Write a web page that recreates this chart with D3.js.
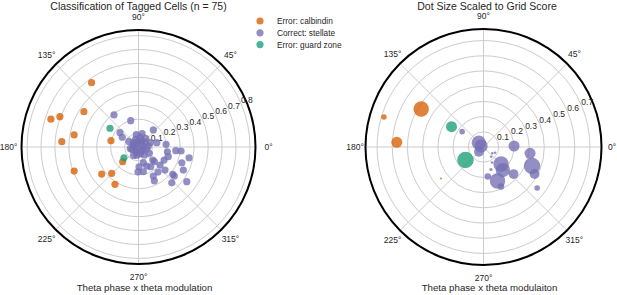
<!DOCTYPE html>
<html lang="en">
<head>
<meta charset="utf-8" />
<title>Classification of Tagged Cells – polar</title>
<script src="https://d3js.org/d3.v7.min.js"></script>
<style>
  body { margin: 0; background: #fff; font-family: "Liberation Sans", Arial, sans-serif; }
  svg { display: block; }
  .grid { fill: none; stroke: #cccccc; stroke-width: 1; }
  .spine { fill: none; stroke: #000; stroke-width: 2; }
  .lbl { fill: #262626; }
</style>
</head>
<body>
<div id="chart"></div>
<script>
/* ----------------------------- DATA ----------------------------- */
const classes = ['Error: calbindin', 'Correct: stellate', 'Error: guard zone'];
const classColors = ['#d95f02', '#7570b3', '#1b9e77'];

const angleTicks = [0, 45, 90, 135, 180, 225, 270, 315];
const leftRTicks = [0.1, 0.2, 0.3, 0.4, 0.5, 0.6, 0.7, 0.8];
const rightRTicks = [0.1, 0.2, 0.3, 0.4, 0.5, 0.6, 0.7];

// left panel: theta phase (deg) and theta modulation (r)
const calbTheta = [126.1, 147.1, 162.4, 158.9, 169.4, 176.0, 167.1, 222.9, 200.5, 216.3, 224.5, 237.8];
const calbR     = [0.572, 0.467, 0.660, 0.605, 0.470, 0.552, 0.203, 0.155, 0.493, 0.328, 0.270, 0.317];

const stelTheta = [127.4, 106.5, 142.3, 149.1, 49.0, 13.3, 5.6, 350.7, 354.3, 354.6, 348.0, 342.0,
  333.0, 317.5, 317.1, 340.0, 332.8, 321.4, 321.0, 324.3, 312.9, 319.0, 297.0, 295.1,
  293.3, 287.0, 271.5, 268.8, 281.0, 301.8, 320.1, 307.9,
  5, 20, 35, 50, 65, 80, 95, 110, 125, 140, 160, 180, 200, 220, 245, 260, 285, 305,
  325, 345, 15, 45, 75, 100, 150, 190, 240, 300, 330];
const stelR = [0.290, 0.197, 0.168, 0.136, 0.162, 0.135, 0.199, 0.210, 0.269, 0.307, 0.371, 0.225,
  0.206, 0.139, 0.155, 0.331, 0.362, 0.315, 0.331, 0.427, 0.351, 0.252, 0.234, 0.268,
  0.149, 0.118, 0.142, 0.178, 0.181, 0.167, 0.202, 0.228,
  0.07, 0.09, 0.06, 0.08, 0.05, 0.07, 0.04, 0.06, 0.03, 0.05, 0.04, 0.03, 0.05, 0.02, 0.04, 0.06, 0.05, 0.07,
  0.04, 0.06, 0.03, 0.03, 0.10, 0.09, 0.08, 0.06, 0.07, 0.03, 0.09];

const guardTheta = [146.7, 216.4];
const guardR     = [0.245, 0.130];

// right panel: same axes, dot size from grid score
const gsCalbTheta = [148.6, 163.2, 176.9, 216.5];
const gsCalbR     = [0.480, 0.684, 0.571, 0.348];
const gsCalbScore = [1.15, 0.15, 0.59, 0.02];

const gsStelTheta = [144.3, 137.5, 156.5, 226.2, 324.1, 333.6, 308.4, 1.9, 352.3, 315.8,
  310.0, 318.0, 292.4, 293.9, 278.3, 288.4, 338.6, 332.1, 322.6, 298.7];
const gsStelR = [0.173, 0.042, 0.017, 0.043, 0.071, 0.085, 0.081, 0.201, 0.309, 0.161,
  0.198, 0.266, 0.242, 0.284, 0.196, 0.156, 0.343, 0.380, 0.444, 0.116];
const gsStelScore = [0.15, 0.99, 0.84, 0.47, 0.03, 0.03, 0.03, 0.59, 0.59, 1.15,
  0.99, 0.47, 1.15, 0.21, 0.21, 0.05, 1.32, 0.47, 0.15, 0.03];

const gsGuardTheta = [147.6, 215.8];
const gsGuardR     = [0.249, 0.146];
const gsGuardScore = [0.59, 1.32];

/* ---------------------------- LAYOUT ---------------------------- */
const W = 617, H = 295;
const svg = d3.select('#chart').append('svg').attr('width', W).attr('height', H);

const rad = (d) => (d * Math.PI) / 180;
const size = d3.scaleSqrt().domain([0, 1.5]).range([0, 8.8]);

function polar(cfg) {
  const g = svg.append('g').attr('transform', `translate(${cfg.cx},${cfg.cy})`);
  const r = d3.scaleLinear().domain([0, cfg.rmax]).range([0, cfg.R]);
  const px = (t, v) => r(v) * Math.cos(rad(t));
  const py = (t, v) => -r(v) * Math.sin(rad(t));

  // rings + spokes
  g.selectAll('circle.grid').data(cfg.rTicks).join('circle')
    .attr('class', 'grid').attr('r', (d) => r(d));
  g.selectAll('line.grid').data(angleTicks).join('line')
    .attr('class', 'grid')
    .attr('x2', (d) => cfg.R * Math.cos(rad(d)))
    .attr('y2', (d) => -cfg.R * Math.sin(rad(d)));
  g.append('circle').attr('class', 'spine').attr('r', cfg.R);

  // angle labels
  g.selectAll('text.ang').data(angleTicks).join('text')
    .attr('class', 'lbl ang')
    .attr('x', (d) => (cfg.R + cfg.pad) * Math.cos(rad(d)))
    .attr('y', (d) => -(cfg.R + 13) * Math.sin(rad(d)))
    .attr('text-anchor', 'middle').attr('dominant-baseline', 'central')
    .attr('font-size', 8.5).text((d) => `${d}°`);

  // radial labels along 22.5°
  g.selectAll('text.rl').data(cfg.rTicks).join('text')
    .attr('class', 'lbl rl')
    .attr('x', (d) => px(22.5, d) - 0.5)
    .attr('y', (d) => py(22.5, d) - 1)
    .attr('font-size', 8.5).text((d) => d.toFixed(1));

  // points
  cfg.groups.forEach((grp, i) => {
    g.append('g').attr('fill', classColors[i]).attr('fill-opacity', 0.78)
      .selectAll('circle').data(grp.theta.map((t, j) => ({ t, v: grp.r[j], s: grp.score ? grp.score[j] : null })))
      .join('circle')
      .attr('cx', (d) => px(d.t, d.v))
      .attr('cy', (d) => py(d.t, d.v))
      .attr('r', (d) => (d.s == null ? 3.6 : size(d.s)));
  });

  // title + x label
  svg.append('text').attr('class', 'lbl')
    .attr('x', cfg.cx + cfg.titleDx).attr('y', 9.5)
    .attr('text-anchor', 'middle').attr('font-size', 10.5).text(cfg.title);
  svg.append('text').attr('class', 'lbl')
    .attr('x', cfg.cx + 6).attr('y', 291)
    .attr('text-anchor', 'middle').attr('font-size', 9.7).text(cfg.xlabel);
}

polar({
  cx: 138.5, cy: 147, R: 117, rmax: 0.84, rTicks: leftRTicks, titleDx: 0, pad: 13,
  title: 'Classification of Tagged Cells (n = 75)',
  xlabel: 'Theta phase x theta modulation',
  groups: [
    { theta: calbTheta, r: calbR },
    { theta: stelTheta, r: stelR },
    { theta: guardTheta, r: guardR },
  ],
});

polar({
  cx: 483.5, cy: 147, R: 118, rmax: 0.776, rTicks: rightRTicks, titleDx: 3.5, pad: 10.5,
  title: 'Dot Size Scaled to Grid Score',
  xlabel: 'Theta phase x theta modulaiton',
  groups: [
    { theta: gsCalbTheta, r: gsCalbR, score: gsCalbScore },
    { theta: gsStelTheta, r: gsStelR, score: gsStelScore },
    { theta: gsGuardTheta, r: gsGuardR, score: gsGuardScore },
  ],
});

/* ---------------------------- LEGEND ---------------------------- */
const leg = svg.append('g').attr('transform', 'translate(260,21)');
const row = leg.selectAll('g').data(classes).join('g')
  .attr('transform', (_, i) => `translate(0,${i * 11.8})`);
row.append('circle').attr('r', 3.6).attr('fill', (_, i) => classColors[i]).attr('fill-opacity', 0.78);
row.append('text').attr('class', 'lbl').attr('x', 17).attr('dy', '0.35em')
  .attr('font-size', 8.3).text((d) => d);
</script>
</body>
</html>
